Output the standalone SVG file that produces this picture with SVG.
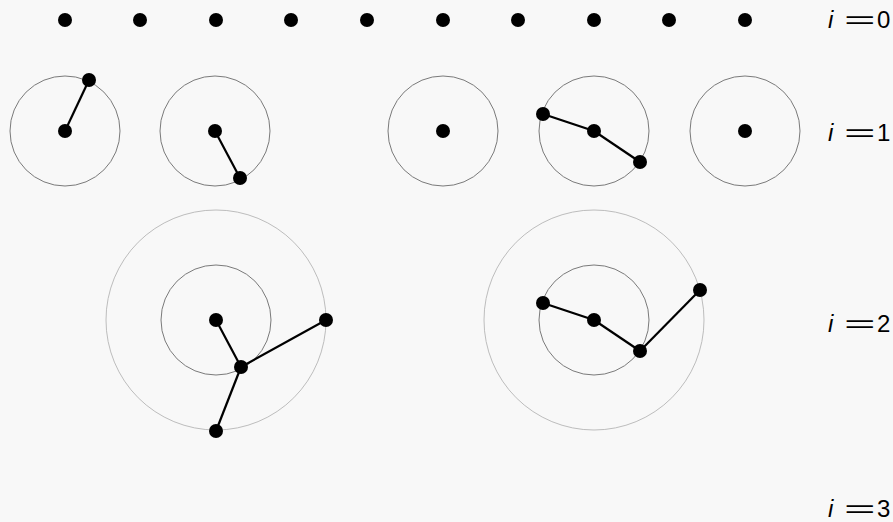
<svg xmlns="http://www.w3.org/2000/svg" width="893" height="522" viewBox="0 0 893 522">
<style>
.dot{fill:#000}
.c1{fill:none;stroke:#7a7a7a;stroke-width:1}
.c2{fill:none;stroke:#bdbdbd;stroke-width:1}
.e{stroke:#000;stroke-width:2.2;fill:none}
.lbl{font-family:"Liberation Sans","DejaVu Sans",sans-serif;font-size:24px;fill:#000}
.it{font-style:italic}
</style>
<rect width="893" height="522" fill="#f8f8f8"/>
<g id="rings">
<circle class="c1" cx="65" cy="131" r="55"/>
<circle class="c1" cx="215" cy="131" r="55"/>
<circle class="c1" cx="443" cy="131" r="55"/>
<circle class="c1" cx="594" cy="131" r="55"/>
<circle class="c1" cx="745" cy="131" r="55"/>
<circle class="c1" cx="216" cy="320" r="55"/>
<circle class="c2" cx="216" cy="320" r="110"/>
<circle class="c1" cx="594" cy="320" r="55"/>
<circle class="c2" cx="594" cy="320" r="110"/>
</g>
<g id="connectors">
<line class="e" x1="65" y1="131" x2="89" y2="80"/>
<line class="e" x1="215" y1="131" x2="240" y2="178"/>
<line class="e" x1="594" y1="131" x2="543" y2="114"/>
<line class="e" x1="594" y1="131" x2="640" y2="162"/>
<line class="e" x1="216" y1="320" x2="241" y2="367"/>
<line class="e" x1="241" y1="367" x2="326" y2="320"/>
<line class="e" x1="241" y1="367" x2="216" y2="431"/>
<line class="e" x1="594" y1="320" x2="543" y2="303"/>
<line class="e" x1="594" y1="320" x2="640" y2="351"/>
<line class="e" x1="640" y1="351" x2="700" y2="290"/>
</g>
<g id="row0">
<circle class="dot" cx="65" cy="20" r="7"/>
<circle class="dot" cx="140" cy="20" r="7"/>
<circle class="dot" cx="216" cy="20" r="7"/>
<circle class="dot" cx="291" cy="20" r="7"/>
<circle class="dot" cx="367" cy="20" r="7"/>
<circle class="dot" cx="443" cy="20" r="7"/>
<circle class="dot" cx="518" cy="20" r="7"/>
<circle class="dot" cx="594" cy="20" r="7"/>
<circle class="dot" cx="669" cy="20" r="7"/>
<circle class="dot" cx="745" cy="20" r="7"/>
</g>
<g id="row1">
<circle class="dot" cx="65" cy="131" r="7"/>
<circle class="dot" cx="89" cy="80" r="7"/>
<circle class="dot" cx="215" cy="131" r="7"/>
<circle class="dot" cx="240" cy="178" r="7"/>
<circle class="dot" cx="443" cy="131" r="7"/>
<circle class="dot" cx="594" cy="131" r="7"/>
<circle class="dot" cx="543" cy="114" r="7"/>
<circle class="dot" cx="640" cy="162" r="7"/>
<circle class="dot" cx="745" cy="131" r="7"/>
</g>
<g id="row2">
<circle class="dot" cx="216" cy="320" r="7"/>
<circle class="dot" cx="241" cy="367" r="7"/>
<circle class="dot" cx="326" cy="320" r="7"/>
<circle class="dot" cx="216" cy="431" r="7"/>
<circle class="dot" cx="594" cy="320" r="7"/>
<circle class="dot" cx="543" cy="303" r="7"/>
<circle class="dot" cx="640" cy="351" r="7"/>
<circle class="dot" cx="700" cy="290" r="7"/>
</g>
<g id="label0">
<text class="lbl" y="28"><tspan class="it" x="828">i</tspan><tspan x="877">0</tspan></text>
<text class="lbl" transform="translate(844,28) scale(2.25,1)">=</text>
</g>
<g id="label1">
<text class="lbl" y="141"><tspan class="it" x="828">i</tspan><tspan x="877">1</tspan></text>
<text class="lbl" transform="translate(844,141) scale(2.25,1)">=</text>
</g>
<g id="label2">
<text class="lbl" y="332"><tspan class="it" x="828">i</tspan><tspan x="877">2</tspan></text>
<text class="lbl" transform="translate(844,332) scale(2.25,1)">=</text>
</g>
<g id="label3">
<text class="lbl" y="517"><tspan class="it" x="828">i</tspan><tspan x="877">3</tspan></text>
<text class="lbl" transform="translate(844,517) scale(2.25,1)">=</text>
</g>
</svg>
